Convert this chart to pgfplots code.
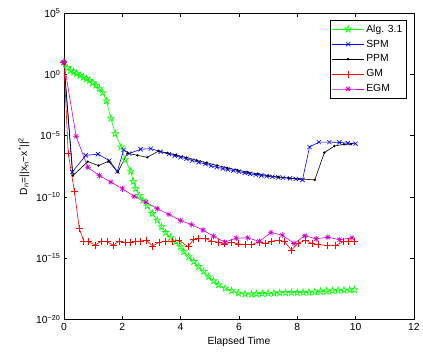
\documentclass[border=0pt]{standalone}
\usepackage{pgfplots}
\pgfplotsset{compat=1.18}
\usepackage{fontspec}
\setmainfont{Liberation Sans}
\definecolor{mgreen}{rgb}{0,1,0}
\definecolor{mblue}{rgb}{0,0,1}
\definecolor{mred}{rgb}{1,0,0}
\definecolor{mmag}{rgb}{0.8,0,0.8}
\pgfdeclareplotmark{pentagram}{%
  \pgfpathmoveto{\pgfpointpolar{90}{\pgfplotmarksize}}%
  \pgfpathlineto{\pgfpointpolar{126}{0.382\pgfplotmarksize}}%
  \pgfpathlineto{\pgfpointpolar{162}{\pgfplotmarksize}}%
  \pgfpathlineto{\pgfpointpolar{198}{0.382\pgfplotmarksize}}%
  \pgfpathlineto{\pgfpointpolar{234}{\pgfplotmarksize}}%
  \pgfpathlineto{\pgfpointpolar{270}{0.382\pgfplotmarksize}}%
  \pgfpathlineto{\pgfpointpolar{306}{\pgfplotmarksize}}%
  \pgfpathlineto{\pgfpointpolar{342}{0.382\pgfplotmarksize}}%
  \pgfpathlineto{\pgfpointpolar{18}{\pgfplotmarksize}}%
  \pgfpathlineto{\pgfpointpolar{54}{0.382\pgfplotmarksize}}%
  \pgfpathclose\pgfusepathqstroke}
\pgfdeclareplotmark{matstar}{%
  \pgfpathmoveto{\pgfqpoint{-\pgfplotmarksize}{0pt}}\pgfpathlineto{\pgfqpoint{\pgfplotmarksize}{0pt}}%
  \pgfpathmoveto{\pgfqpoint{0pt}{-\pgfplotmarksize}}\pgfpathlineto{\pgfqpoint{0pt}{\pgfplotmarksize}}%
  \pgfpathmoveto{\pgfpointpolar{45}{\pgfplotmarksize}}\pgfpathlineto{\pgfpointpolar{225}{\pgfplotmarksize}}%
  \pgfpathmoveto{\pgfpointpolar{135}{\pgfplotmarksize}}\pgfpathlineto{\pgfpointpolar{315}{\pgfplotmarksize}}%
  \pgfusepathqstroke}
\begin{document}
\begin{tikzpicture}
\begin{axis}[
  scale only axis,
  width=352.4pt, height=308.4pt,
  xmin=0, xmax=12, ymode=log, ymin=1e-20, ymax=1e5,
  xtick={0,2,...,12},
  ytick={1e-20,1e-15,1e-10,1e-5,1,1e5},
  yticklabels={10\textsuperscript{−20},10\textsuperscript{−15},10\textsuperscript{−10},10\textsuperscript{−5},10\textsuperscript{0},10\textsuperscript{5}},
  minor ytick={}, yminorticks=false,
  tick align=inside, major tick length=3.5pt,
  axis line style={line width=0.7pt}, every tick/.style={line width=0.6pt,black},
  /pgf/number format/assume math mode=true,
  tick label style={font=\fontsize{10.4}{12}\selectfont},
  label style={font=\fontsize{10.4}{12}\selectfont},
  xlabel={Elapsed Time},
  ylabel={D\textsubscript{n}=||x\textsubscript{n}−x\textsuperscript{*}||\textsuperscript{2}},
  legend cell align=left,
  legend style={at={(1,1)}, anchor=north east, xshift=-7.4pt, yshift=-6.7pt,
    draw=black, line width=0.6pt, font=\fontsize{10.4}{12}\selectfont,
    inner xsep=2pt, inner ysep=2.5pt, row sep=2.3pt},
  legend image code/.code={\draw[mark repeat=2,mark phase=2] plot coordinates {(0pt,0pt) (16pt,0pt) (32pt,0pt)};},
  every axis plot/.append style={line width=0.6pt},
  clip=false,
]
\addplot[color=mgreen, mark=pentagram, mark size=3.6pt] coordinates {
(0,10)(0.116,3.47)(0.228,2.09)(0.33,1.55)(0.44,1.20)(0.56,0.83)(0.67,0.60)(0.78,0.447)(0.875,0.324)(0.99,0.209)(1.10,0.129)(1.22,0.0692)(1.33,0.0324)(1.46,6.9e-3)(1.61,2.7e-4)(1.76,1.45e-5)(1.96,1.2e-6)(2.10,1.12e-7)(2.29,1.29e-8)(2.38,1.86e-9)(2.46,4.68e-10)(2.58,1.35e-10)(2.71,5.37e-11)(2.86,1.86e-11)(3.03,4.47e-12)(3.20,1.26e-12)(3.35,3.72e-13)(3.49,1.26e-13)(3.66,5.0e-14)(3.83,2.24e-14)(4.0,8.7e-15)(4.11,3.47e-15)(4.28,1.35e-15)(4.45,5.37e-16)(4.62,2.09e-16)(4.79,8.3e-17)(4.96,3.16e-17)(5.13,1.45e-17)(5.30,6.76e-18)(5.53,3.63e-18)(5.75,2.24e-18)(5.98,1.45e-18)(6.21,1.2e-18)(6.43,1.2e-18)(6.6,1.26e-18)(6.8,1.32e-18)(7.0,1.41e-18)(7.2,1.41e-18)(7.4,1.51e-18)(7.6,1.51e-18)(7.8,1.58e-18)(8.0,1.58e-18)(8.2,1.66e-18)(8.4,1.66e-18)(8.6,1.78e-18)(8.8,2.0e-18)(9.0,2.09e-18)(9.2,2.24e-18)(9.4,2.4e-18)(9.6,2.51e-18)(9.8,2.63e-18)(9.96,2.69e-18)
};
\addlegendentry{Alg. 3.1}
\addplot[color=mblue, mark=x, mark size=3pt] coordinates {
(0,10)(0.29,1.12e-8)(0.75,2.51e-7)(1.17,3.16e-7)(1.56,9.3e-8)(1.83,1.2e-8)(2.05,7.08e-7)(2.24,3.55e-7)(2.63,7.94e-7)(2.98,8.9e-7)(3.32,5.0e-7)(3.6,3.16e-7)(3.8,2.4e-7)(4.0,1.74e-7)(4.2,1.32e-7)(4.4,9.5e-8)(4.62,6.9e-8)(4.85,5.0e-8)(5.05,3.55e-8)(5.24,2.69e-8)(5.45,2.14e-8)(5.62,1.74e-8)(5.81,1.45e-8)(6.0,1.17e-8)(6.2,9.3e-9)(6.38,7.76e-9)(6.58,6.6e-9)(6.77,5.75e-9)(6.95,5.0e-9)(7.15,4.47e-9)(7.35,3.98e-9)(7.51,3.72e-9)(7.75,3.31e-9)(7.95,3.02e-9)(8.18,2.51e-9)(8.42,1.2e-6)(8.74,3.02e-6)(9.1,3.02e-6)(9.44,2.88e-6)(9.73,2.51e-6)(10.0,2.24e-6)
};
\addlegendentry{SPM}
\addplot[color=black, mark=*, mark size=0.9pt] coordinates {
(0,10)(0.31,5.6e-9)(0.82,7.76e-8)(1.19,3.72e-8)(1.53,8.3e-8)(1.85,1.07e-8)(2.18,3.8e-7)(2.52,2.51e-7)(2.86,1.74e-7)(3.24,5.6e-7)(3.55,3.98e-7)(3.85,2.69e-7)(4.2,1.66e-7)(4.55,1e-7)(4.9,6.3e-8)(5.25,3.8e-8)(5.6,2.4e-8)(5.95,1.58e-8)(6.3,1.07e-8)(6.65,7.6e-9)(7.0,5.6e-9)(7.35,4.37e-9)(7.7,3.55e-9)(8.05,3.02e-9)(8.6,2.51e-9)(8.93,4.17e-7)(9.27,1.45e-6)(9.6,2.0e-6)(9.85,2.09e-6)
};
\addlegendentry{PPM}
\addplot[color=mred, mark=+, mark size=3.5pt] coordinates {
(0,10)(0.15,3.55e-7)(0.36,2.88e-10)(0.53,2.69e-13)(0.68,2.51e-14)(0.85,2.24e-14)(1.07,1.2e-14)(1.29,2.51e-14)(1.48,2.24e-14)(1.69,1.2e-14)(1.90,2.51e-14)(2.09,2.0e-14)(2.27,1.86e-14)(2.46,2.51e-14)(2.63,2.51e-14)(2.83,3.02e-14)(3.04,1.0e-14)(3.26,2.0e-14)(3.49,2.51e-14)(3.71,2.51e-14)(3.94,3.02e-14)(4.26,8.7e-15)(4.45,3.63e-14)(4.62,4.17e-14)(4.85,4.17e-14)(5.07,2.51e-14)(5.3,2.0e-14)(5.5,1.48e-14)(5.75,2.0e-14)(5.98,1.48e-14)(6.21,1.35e-14)(6.44,1.35e-14)(6.69,2.09e-14)(6.92,1.62e-14)(7.12,2.51e-14)(7.37,3.02e-14)(7.57,2.24e-14)(7.8,4.68e-15)(8.02,1.62e-14)(8.28,3.02e-14)(8.5,1.62e-14)(8.71,1.35e-14)(9.02,1.12e-14)(9.31,1.12e-14)(9.58,2.24e-14)(9.75,2.51e-14)(9.96,2.4e-14)
};
\addlegendentry{GM}
\addplot[color=mmag, mark=matstar, mark size=3pt] coordinates {
(0,10)(0.42,8.9e-6)(0.82,2.69e-8)(1.22,5.6e-9)(1.61,1.66e-9)(2.01,4.68e-10)(2.41,1.12e-10)(2.81,3.89e-11)(3.2,1.12e-11)(3.6,3.8e-12)(4.0,1.2e-12)(4.38,5.6e-13)(4.77,2.0e-13)(5.13,6.3e-14)(5.52,2.09e-14)(5.91,4.37e-14)(6.3,4.68e-14)(6.7,2.4e-14)(7.1,1.26e-13)(7.49,7.76e-14)(7.89,1.62e-14)(8.26,6.9e-14)(8.65,3.89e-14)(9.05,5.25e-14)(9.45,3.31e-14)(9.87,4.68e-14)
};
\addlegendentry{EGM}
\coordinate (O) at (rel axis cs:0,0);
\end{axis}
\path (O) ++(-64.3pt,-36.3pt) rectangle ++(423pt,358pt);
\end{tikzpicture}
\end{document}
